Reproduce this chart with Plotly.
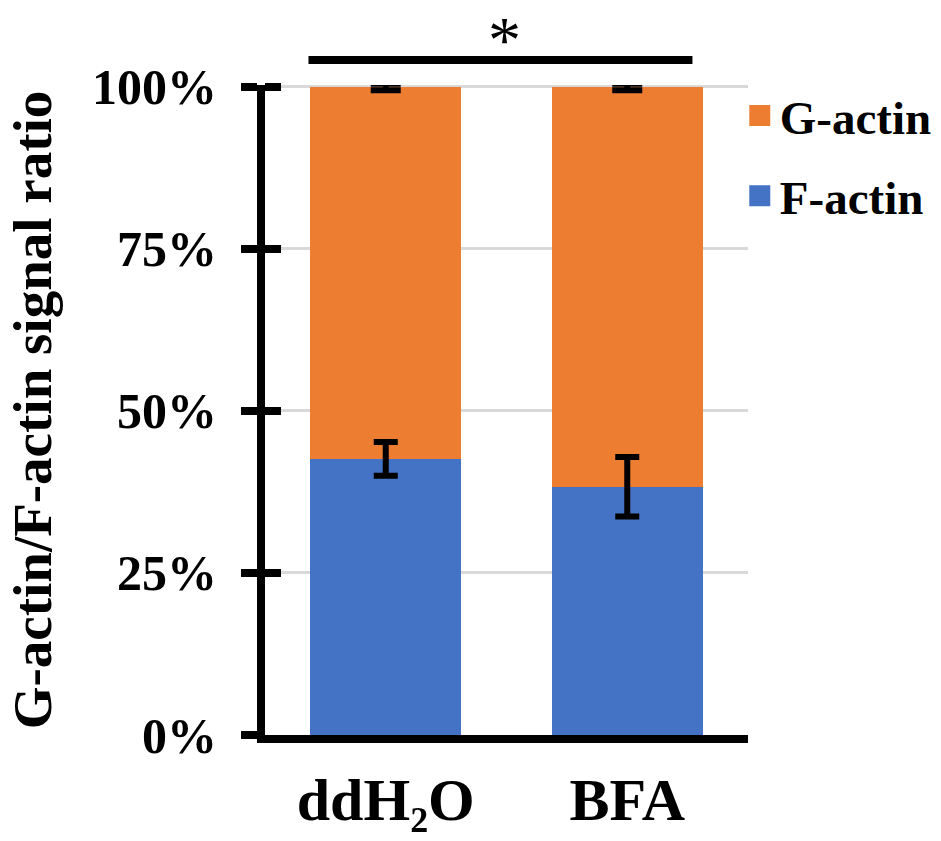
import plotly.graph_objects as go

categories = ["ddH₂O", "BFA"]
f_actin = [0.426, 0.383]
g_actin = [0.574, 0.617]
f_err = [0.026, 0.046]
g_err = [0.005, 0.005]
y_ticks = [0, 0.25, 0.5, 0.75, 1.0]
y_ticktext = ["0%", "25%", "50%", "75%", "100%"]
sig_label = "*"

BLUE = "#4472C4"
ORANGE = "#ED7D31"
FONT = "Liberation Serif, Times New Roman, serif"

stack_top = [f + g for f, g in zip(f_actin, g_actin)]

fig = go.Figure()
fig.add_trace(go.Bar(x=categories, y=f_actin, name="F-actin", marker=dict(color=BLUE, line=dict(width=0)),
                     showlegend=False))
fig.add_trace(go.Bar(x=categories, y=g_actin, name="G-actin", marker=dict(color=ORANGE, line=dict(width=0)),
                     showlegend=False))
# error bars drawn on top of the stacked bars
fig.add_trace(go.Scatter(x=categories, y=f_actin, mode="markers", marker=dict(opacity=0, size=1),
                         error_y=dict(type="data", array=f_err, color="black", thickness=6, width=12),
                         showlegend=False, hoverinfo="skip", cliponaxis=False))
fig.add_trace(go.Scatter(x=categories, y=stack_top, mode="markers", marker=dict(opacity=0, size=1),
                         error_y=dict(type="data", array=g_err, color="black", thickness=6, width=15),
                         showlegend=False, hoverinfo="skip", cliponaxis=False))
# legend entries
fig.add_trace(go.Scatter(x=[None], y=[None], mode="markers", name="G-actin", legendgroup="g",
                         marker=dict(symbol="square", size=16, color=ORANGE, line=dict(color=ORANGE, width=5))))
fig.add_trace(go.Scatter(x=[None], y=[None], mode="markers", name="F-actin", legendgroup="f",
                         marker=dict(symbol="square", size=16, color=BLUE, line=dict(color=BLUE, width=5))))
# invisible trace for inner tick axis
fig.add_trace(go.Scatter(x=[categories[0]], y=[None], yaxis="y2", showlegend=False, hoverinfo="skip"))

YR = [0, 1.003]
fig.update_layout(
    width=941, height=841,
    margin=dict(l=265, r=193, t=85, b=106, autoexpand=False),
    barmode="stack", bargap=0.375,
    plot_bgcolor="white", paper_bgcolor="white",
    font=dict(family=FONT, color="black", size=48, weight="bold"),
    showlegend=True,
    legend=dict(x=0.983, y=1.01, xanchor="left", yanchor="top", traceorder="grouped",
                tracegroupgap=16, font=dict(size=47, family=FONT, weight="bold"),
                bgcolor="rgba(0,0,0,0)", itemwidth=30),
    xaxis=dict(showline=True, linecolor="black", linewidth=8, ticks="", showgrid=False,
               tickfont=dict(size=60, family=FONT, weight="bold"), ticklabelstandoff=5),
    yaxis=dict(range=YR, tickvals=y_ticks, ticktext=y_ticktext, showline=True, linecolor="black",
               linewidth=8, ticks="outside", ticklen=16, tickwidth=8, tickcolor="black",
               showgrid=True, gridcolor="#d9d9d9", gridwidth=3, zeroline=False,
               tickfont=dict(size=50, family=FONT, weight="bold"), ticklabelstandoff=14,
               title=dict(text="G-actin/F-actin signal ratio", font=dict(size=55, family=FONT, weight="bold"),
                          standoff=26)),
    yaxis2=dict(range=YR, tickvals=y_ticks, overlaying="y", side="left", anchor="x",
                ticks="inside", ticklen=16, tickwidth=8, tickcolor="black", showticklabels=False,
                showgrid=False, showline=False, zeroline=False),
)

fig.add_shape(type="line", xref="x", yref="paper", x0=-0.32, x1=1.27, y0=1.0386, y1=1.0386,
              line=dict(color="black", width=8))
fig.add_annotation(x=0.49, y=1.13, xref="x", yref="paper", text=sig_label, showarrow=False,
                   yanchor="top", font=dict(size=66, family=FONT, weight="normal", color="black"))

fig.write_html("out.html")
